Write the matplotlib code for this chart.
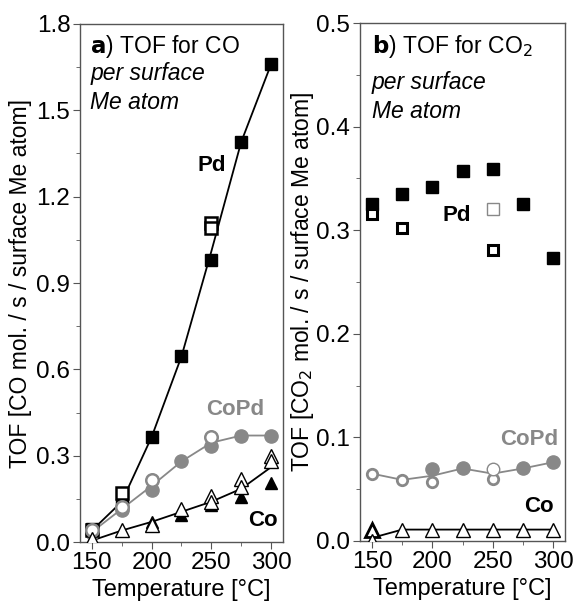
import matplotlib
matplotlib.use("Agg")
import matplotlib.pyplot as plt
from matplotlib.ticker import MultipleLocator

plt.rcParams['font.family'] = ['Liberation Sans', 'DejaVu Sans']

temps = [150, 175, 200, 225, 250, 275, 300]
GRAY = '#888888'

# panel a: TOF for CO
pd_co_filled_t = [150, 175, 200, 225, 250, 275, 300]
pd_co_filled = [0.045, 0.13, 0.365, 0.645, 0.98, 1.39, 1.66]
pd_co_open_t = [150, 175, 250, 250]
pd_co_open = [0.04, 0.17, 1.11, 1.09]
pd_co_line = [0.04, 0.14, 0.365, 0.645, 1.01, 1.39, 1.66]

copd_co_filled_t = [150, 175, 200, 225, 250, 275, 300]
copd_co_filled = [0.03, 0.11, 0.18, 0.28, 0.335, 0.37, 0.37]
copd_co_open_t = [150, 175, 200, 250]
copd_co_open = [0.04, 0.12, 0.215, 0.365]
copd_co_line = [0.035, 0.115, 0.195, 0.28, 0.345, 0.37, 0.37]

co_co_filled_t = [200, 225, 250, 275, 300]
co_co_filled = [0.07, 0.095, 0.13, 0.155, 0.205]
co_co_open_t = [150, 175, 200, 225, 250, 250, 275, 275, 300, 300]
co_co_open = [0.01, 0.04, 0.06, 0.115, 0.16, 0.14, 0.22, 0.19, 0.30, 0.28]
co_co_line = [0.005, 0.04, 0.07, 0.105, 0.14, 0.185, 0.26]

# panel b: TOF for CO2
pd_co2_filled_t = [150, 175, 200, 225, 250, 275, 300]
pd_co2_filled = [0.325, 0.335, 0.342, 0.357, 0.359, 0.325, 0.273]
pd_co2_open_t = [150, 175, 250]
pd_co2_open = [0.316, 0.302, 0.281]
pd_co2_thin_t = [250]
pd_co2_thin = [0.320]

copd_co2_filled_t = [200, 225, 275, 300]
copd_co2_filled = [0.069, 0.070, 0.070, 0.076]
copd_co2_open_t = [150, 175, 200, 250]
copd_co2_open = [0.065, 0.059, 0.057, 0.060]
copd_co2_thin_t = [250]
copd_co2_thin = [0.069]
copd_co2_line = [0.065, 0.059, 0.063, 0.070, 0.065, 0.070, 0.076]

co_co2_open_t = [150, 175, 200, 225, 250, 275, 300]
co_co2_open = [0.0, 0.011, 0.011, 0.011, 0.011, 0.011, 0.011]
co_co2_dark_t = [150]
co_co2_dark = [0.011]
co_co2_line = [0.003, 0.011, 0.011, 0.011, 0.011, 0.011, 0.011]

fig = plt.figure(figsize=(5.73, 6.06), dpi=100)
ax1 = fig.add_axes([0.1396, 0.1056, 0.3543, 0.8548])
ax2 = fig.add_axes([0.6283, 0.1073, 0.3578, 0.8547])


def style(ax, ymax, major, minor):
    ax.set_xlim(140, 310)
    ax.set_ylim(0, ymax)
    ax.xaxis.set_major_locator(MultipleLocator(50))
    ax.xaxis.set_minor_locator(MultipleLocator(25))
    ax.yaxis.set_major_locator(MultipleLocator(major))
    ax.yaxis.set_minor_locator(MultipleLocator(minor))
    for s in ax.spines.values():
        s.set_color('#555555')
        s.set_linewidth(1.0)
    ax.tick_params(which='both', direction='out', color='#555555', labelsize=17.5,
                   top=False, right=False, pad=2)
    ax.tick_params(which='major', length=5)
    ax.tick_params(which='minor', length=3)
    ax.set_xlabel('Temperature [°C]', fontsize=17, labelpad=4)


# ---- panel a ----
ax = ax1
ax.plot(temps, pd_co_line, color='black', lw=1.3, zorder=1)
ax.plot(temps, copd_co_line, color=GRAY, lw=1.3, zorder=1)
ax.plot(temps, co_co_line, color='black', lw=1.3, zorder=1)
ax.plot(pd_co_filled_t, pd_co_filled, 's', ms=9, color='black', zorder=3)
ax.plot(pd_co_open_t, pd_co_open, 's', ms=8, mfc='white', mec='black', mew=1.8, zorder=4)
ax.plot(copd_co_filled_t, copd_co_filled, 'o', ms=9.5, color=GRAY, zorder=3)
ax.plot(copd_co_open_t, copd_co_open, 'o', ms=9, mfc='white', mec=GRAY, mew=1.8, zorder=4)
ax.plot(co_co_filled_t, co_co_filled, '^', ms=9, color='black', zorder=3)
ax.plot(co_co_open_t, co_co_open, '^', ms=10, mfc='white', mec='black', mew=1.0, zorder=4)
style(ax, 1.8, 0.3, 0.15)
ax.set_ylabel('TOF [CO mol. / s / surface Me atom]', fontsize=16.5, labelpad=3)
ax.text(0.05, 0.956, r'$\mathbf{a}$) TOF for CO', transform=ax.transAxes, fontsize=16.5,
        va='center', ha='left')
ax.text(0.05, 0.905, 'per surface', transform=ax.transAxes, fontsize=16.5,
        va='center', ha='left', style='italic')
ax.text(0.05, 0.849, 'Me atom', transform=ax.transAxes, fontsize=16.5,
        va='center', ha='left', style='italic')
ax.text(250, 1.31, 'Pd', fontsize=16, fontweight='bold', ha='center', va='center')
ax.text(270, 0.46, 'CoPd', fontsize=16, fontweight='bold', ha='center', va='center', color=GRAY)
ax.text(293, 0.076, 'Co', fontsize=16, fontweight='bold', ha='center', va='center')

# ---- panel b ----
ax = ax2
ax.plot(temps, copd_co2_line, color=GRAY, lw=1.3, zorder=1)
ax.plot(temps, co_co2_line, color='black', lw=1.3, zorder=1)
ax.plot(pd_co2_filled_t, pd_co2_filled, 's', ms=9, color='black', zorder=3)
ax.plot(pd_co2_open_t, pd_co2_open, 's', ms=7, mfc='white', mec='black', mew=2.2, zorder=4)
ax.plot(pd_co2_thin_t, pd_co2_thin, 's', ms=8, mfc='white', mec=GRAY, mew=1.0, zorder=4)
ax.plot(copd_co2_filled_t, copd_co2_filled, 'o', ms=9.5, color=GRAY, zorder=3)
ax.plot(copd_co2_open_t, copd_co2_open, 'o', ms=7.5, mfc='white', mec=GRAY, mew=2.0, zorder=4)
ax.plot(copd_co2_thin_t, copd_co2_thin, 'o', ms=9, mfc='white', mec=GRAY, mew=1.0, zorder=4)
ax.plot(co_co2_dark_t, co_co2_dark, '^', ms=10, mfc='white', mec='black', mew=2.0, zorder=4)
ax.plot(co_co2_open_t, co_co2_open, '^', ms=10, mfc='white', mec='black', mew=1.0, zorder=4)
style(ax, 0.5, 0.1, 0.05)
ax.set_ylabel('TOF [CO$_2$ mol. / s / surface Me atom]', fontsize=16.5, labelpad=0)
ax.text(0.058, 0.954, r'$\mathbf{b}$) TOF for CO$_2$', transform=ax.transAxes, fontsize=16.5,
        va='center', ha='left')
ax.text(0.058, 0.886, 'per surface', transform=ax.transAxes, fontsize=16.5,
        va='center', ha='left', style='italic')
ax.text(0.058, 0.830, 'Me atom', transform=ax.transAxes, fontsize=16.5,
        va='center', ha='left', style='italic')
ax.text(220, 0.314, 'Pd', fontsize=16, fontweight='bold', ha='center', va='center')
ax.text(280, 0.098, 'CoPd', fontsize=16, fontweight='bold', ha='center', va='center', color=GRAY)
ax.text(288, 0.033, 'Co', fontsize=16, fontweight='bold', ha='center', va='center')

fig.savefig('out.png', dpi=100)
